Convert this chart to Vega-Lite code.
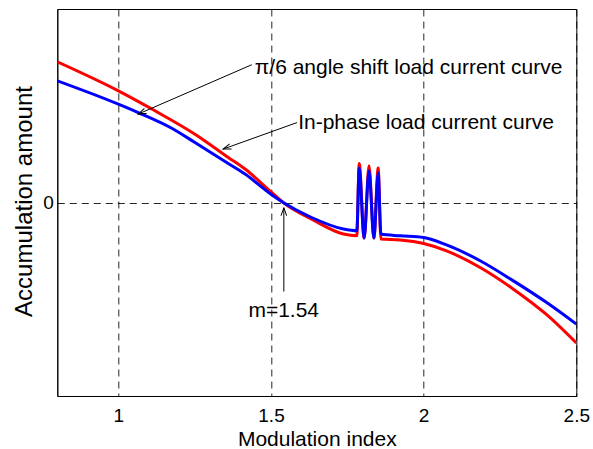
{
  "$schema": "https://vega.github.io/schema/vega-lite/v6.json",
  "width": 519,
  "height": 387,
  "autosize": "none",
  "padding": {"left": 57.3, "top": 9, "right": 16.7, "bottom": 53},
  "background": "white",
  "config": {
    "font": "Liberation Sans",
    "view": {"stroke": "#000", "strokeWidth": 1},
    "axis": {
      "domainColor": "#000",
      "domainWidth": 1,
      "gridColor": "#000",
      "gridDash": [7, 5],
      "gridWidth": 1,
      "gridOpacity": 0.85,
      "ticks": false,
      "labelColor": "#000",
      "labelFontSize": 19,
      "titleColor": "#000",
      "titleFontWeight": "normal"
    }
  },
  "datasets": {
    "curves": [
      {"m": 0.8, "v": 0.727, "curve": "shift"},
      {"m": 1.0, "v": 0.577, "curve": "shift"},
      {"m": 1.12, "v": 0.474, "curve": "shift"},
      {"m": 1.251, "v": 0.353, "curve": "shift"},
      {"m": 1.36, "v": 0.233, "curve": "shift"},
      {"m": 1.415, "v": 0.173, "curve": "shift"},
      {"m": 1.502, "v": 0.052, "curve": "shift"},
      {"m": 1.54, "v": 0.0, "curve": "shift"},
      {"m": 1.633, "v": -0.086, "curve": "shift"},
      {"m": 1.737, "v": -0.163, "curve": "shift"},
      {"m": 1.781, "v": -0.172, "curve": "shift"},
      {"m": 1.789, "v": 0.2016, "curve": "shift"},
      {"m": 1.805, "v": -0.184, "curve": "shift"},
      {"m": 1.821, "v": 0.19, "curve": "shift"},
      {"m": 1.837, "v": -0.184, "curve": "shift"},
      {"m": 1.851, "v": 0.178, "curve": "shift"},
      {"m": 1.86, "v": -0.189, "curve": "shift"},
      {"m": 1.923, "v": -0.194, "curve": "shift"},
      {"m": 2.0, "v": -0.212, "curve": "shift"},
      {"m": 2.075, "v": -0.25, "curve": "shift"},
      {"m": 2.185, "v": -0.336, "curve": "shift"},
      {"m": 2.294, "v": -0.448, "curve": "shift"},
      {"m": 2.403, "v": -0.58, "curve": "shift"},
      {"m": 2.5, "v": -0.726, "curve": "shift"},
      {"m": 0.8, "v": 0.629, "curve": "inphase"},
      {"m": 1.0, "v": 0.5085, "curve": "inphase"},
      {"m": 1.065, "v": 0.465, "curve": "inphase"},
      {"m": 1.175, "v": 0.384, "curve": "inphase"},
      {"m": 1.251, "v": 0.31, "curve": "inphase"},
      {"m": 1.36, "v": 0.2015, "curve": "inphase"},
      {"m": 1.415, "v": 0.147, "curve": "inphase"},
      {"m": 1.502, "v": 0.04, "curve": "inphase"},
      {"m": 1.54, "v": 0.0, "curve": "inphase"},
      {"m": 1.633, "v": -0.0775, "curve": "inphase"},
      {"m": 1.737, "v": -0.137, "curve": "inphase"},
      {"m": 1.781, "v": -0.146, "curve": "inphase"},
      {"m": 1.789, "v": 0.178, "curve": "inphase"},
      {"m": 1.805, "v": -0.184, "curve": "inphase"},
      {"m": 1.821, "v": 0.164, "curve": "inphase"},
      {"m": 1.837, "v": -0.184, "curve": "inphase"},
      {"m": 1.851, "v": 0.153, "curve": "inphase"},
      {"m": 1.86, "v": -0.163, "curve": "inphase"},
      {"m": 1.923, "v": -0.172, "curve": "inphase"},
      {"m": 2.0, "v": -0.181, "curve": "inphase"},
      {"m": 2.075, "v": -0.219, "curve": "inphase"},
      {"m": 2.185, "v": -0.301, "curve": "inphase"},
      {"m": 2.294, "v": -0.405, "curve": "inphase"},
      {"m": 2.403, "v": -0.517, "curve": "inphase"},
      {"m": 2.5, "v": -0.628, "curve": "inphase"}
    ],
    "arrows": [
      {"id": "a1", "x": 1.437, "y": 0.712, "x2": 1.065, "y2": 0.457},
      {"id": "a2", "x": 1.585, "y": 0.413, "x2": 1.343, "y2": 0.276},
      {"id": "a3", "x": 1.542, "y": -0.46, "x2": 1.542, "y2": -0.027}
    ],
    "labels": [
      {"x": 1.447, "y": 0.664, "text": "π/6 angle shift load current curve"},
      {"x": 1.589, "y": 0.379, "text": "In-phase load current curve"},
      {"x": 1.426, "y": -0.591, "text": "m=1.54"}
    ]
  },
  "layer": [
    {
      "data": {"name": "curves"},
      "transform": [{"filter": "datum.curve === 'shift'"}],
      "mark": {"type": "line", "color": "#ff0000", "strokeWidth": 3, "clip": true, "interpolate": "monotone"},
      "encoding": {
        "x": {
          "field": "m", "type": "quantitative",
          "scale": {"domain": [0.8, 2.5], "nice": false, "zero": false},
          "axis": {
            "values": [1, 1.5, 2, 2.5], "format": "~g", "grid": true, "labelPadding": 10, "labelFlush": false,
            "title": "Modulation index", "titleFontSize": 21,
            "titleBaseline": "alphabetic", "titleY": 49
          }
        },
        "y": {
          "field": "v", "type": "quantitative",
          "scale": {"domain": [-1, 1], "nice": false, "zero": false},
          "axis": {
            "values": [0], "format": "~g", "grid": true, "labelPadding": 4,
            "title": "Accumulation amount", "titleFontSize": 24,
            "titleBaseline": "alphabetic", "titleX": -26, "titleY": 192
          }
        }
      }
    },
    {
      "data": {"name": "curves"},
      "transform": [{"filter": "datum.curve === 'inphase'"}],
      "mark": {"type": "line", "color": "#0000ff", "strokeWidth": 3, "clip": true, "interpolate": "monotone"},
      "encoding": {
        "x": {"field": "m", "type": "quantitative"},
        "y": {"field": "v", "type": "quantitative"}
      }
    },
    {
      "data": {"name": "arrows"},
      "mark": {"type": "rule", "color": "#000", "strokeWidth": 1},
      "encoding": {
        "x": {"field": "x", "type": "quantitative"},
        "y": {"field": "y", "type": "quantitative"},
        "x2": {"field": "x2"},
        "y2": {"field": "y2"}
      }
    },
    {
      "data": {"name": "arrows"},
      "transform": [{"filter": "datum.id === 'a1'"}],
      "mark": {"type": "point", "shape": "M -2 -0.7 L 0 0 L -2 0.7", "filled": false, "stroke": "#000", "strokeWidth": 1, "size": 64, "angle": 156.5, "opacity": 1},
      "encoding": {
        "x": {"field": "x2", "type": "quantitative"},
        "y": {"field": "y2", "type": "quantitative"}
      }
    },
    {
      "data": {"name": "arrows"},
      "transform": [{"filter": "datum.id === 'a2'"}],
      "mark": {"type": "point", "shape": "M -2 -0.7 L 0 0 L -2 0.7", "filled": false, "stroke": "#000", "strokeWidth": 1, "size": 64, "angle": 160.4, "opacity": 1},
      "encoding": {
        "x": {"field": "x2", "type": "quantitative"},
        "y": {"field": "y2", "type": "quantitative"}
      }
    },
    {
      "data": {"name": "arrows"},
      "transform": [{"filter": "datum.id === 'a3'"}],
      "mark": {"type": "point", "shape": "M -2 -0.7 L 0 0 L -2 0.7", "filled": false, "stroke": "#000", "strokeWidth": 1, "size": 64, "angle": 270, "opacity": 1},
      "encoding": {
        "x": {"field": "x2", "type": "quantitative"},
        "y": {"field": "y2", "type": "quantitative"}
      }
    },
    {
      "data": {"name": "labels"},
      "mark": {"type": "text", "align": "left", "baseline": "alphabetic", "fontSize": 21, "color": "#000"},
      "encoding": {
        "x": {"field": "x", "type": "quantitative"},
        "y": {"field": "y", "type": "quantitative"},
        "text": {"field": "text"}
      }
    }
  ]
}
